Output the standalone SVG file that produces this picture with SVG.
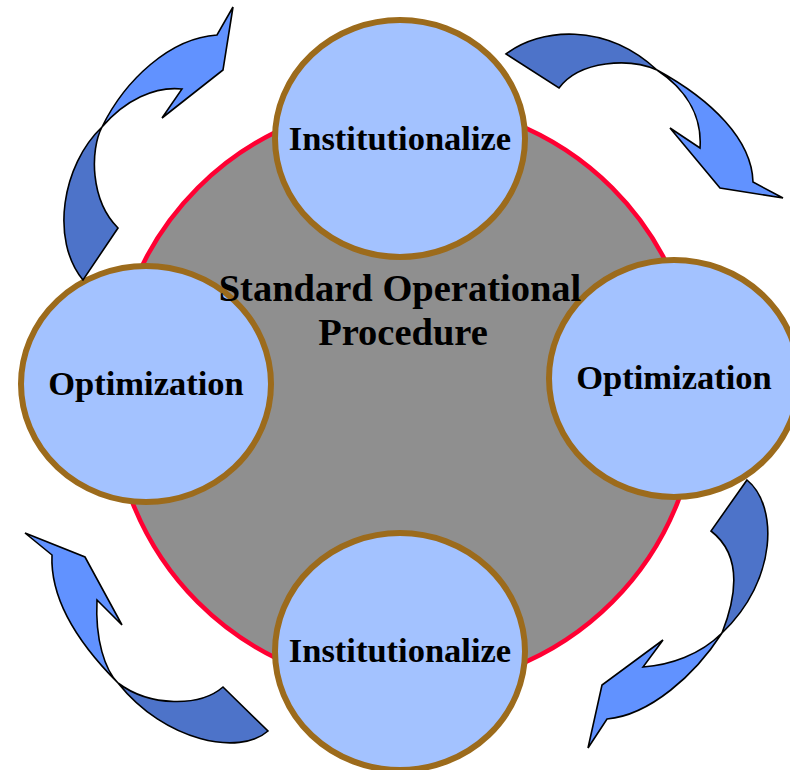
<svg xmlns="http://www.w3.org/2000/svg" width="790" height="770" viewBox="0 0 790 770">
  <style>
    .hub { fill: #8f8f8f; stroke: #ff0033; stroke-width: 4.5; }
    .stage { fill: #a3c2ff; stroke: #9c6b1c; stroke-width: 6; }
    .label { font-family: "Liberation Serif", "Times New Roman", serif; font-weight: bold; font-size: 34.5px; fill: #000; text-anchor: middle; }
    .title { font-family: "Liberation Serif", "Times New Roman", serif; font-weight: bold; font-size: 38.5px; fill: #000; text-anchor: middle; }
    .back { fill: #4d73c9; stroke: #000; stroke-width: 1.6; stroke-linejoin: miter; }
    .front { fill: #6192ff; stroke: #000; stroke-width: 1.6; stroke-linejoin: miter; }
  </style>

  <rect width="790" height="770" fill="#ffffff"/>

  <!-- central process disc -->
  <g id="hub">
    <circle class="hub" cx="405" cy="395" r="293"/>
  </g>

  <!-- stage nodes -->
  <g id="node-top">
    <ellipse class="stage" cx="400" cy="138.5" rx="125" ry="118.5"/>
    <text class="label" x="400" y="149.5">Institutionalize</text>
  </g>
  <g id="node-left">
    <ellipse class="stage" cx="146" cy="384" rx="125" ry="118"/>
    <text class="label" x="146" y="394.5">Optimization</text>
  </g>
  <g id="node-right">
    <ellipse class="stage" cx="674" cy="378.5" rx="125" ry="118.5"/>
    <text class="label" x="674" y="389">Optimization</text>
  </g>
  <g id="node-bottom">
    <ellipse class="stage" cx="400" cy="651.5" rx="125" ry="118.5"/>
    <text class="label" x="400" y="662">Institutionalize</text>
  </g>

  <!-- title over the disc -->
  <g id="title">
    <text class="title" x="400" y="301">Standard Operational</text>
    <text class="title" x="403" y="345">Procedure</text>
  </g>

  <!-- twisted cycle arrows: dark back half + light front half -->
  <g id="connectors">
    <g id="arrow-top-left">
      <path class="back" d="M83,280 C50,240 62,165 102,127 C90,150 90,200 118,228 Z"/>
      <path class="front" d="M102,127 C125,80 170,38 217,35 L233,7 L223,70 L162,118 L182,89 C155,86 125,100 102,127 Z"/>
    </g>
    <g id="arrow-top-right">
      <path class="back" d="M506,54 C540,28 605,22 657,70 C630,58 580,60 559,88 Z"/>
      <path class="front" d="M657,70 C712,100 752,140 753,182 L783,198 L720,188 L670,128 L700,148 C702,120 690,92 657,70 Z"/>
    </g>
    <g id="arrow-bottom-right">
      <path class="back" d="M747,480 C778,505 778,580 722,633 C737,595 742,555 711,531 Z"/>
      <path class="front" d="M722,633 C695,675 650,715 607,719 L588,748 L602,685 L663,640 L643,667 C670,665 700,655 722,633 Z"/>
    </g>
    <g id="arrow-bottom-left">
      <path class="back" d="M268,731 C240,756 165,742 118,683 C150,707 200,707 223,687 Z"/>
      <path class="front" d="M118,683 C80,645 50,600 52,555 L25,533 L85,557 L122,625 L97,600 C95,640 105,670 118,683 Z"/>
    </g>
  </g>
</svg>
